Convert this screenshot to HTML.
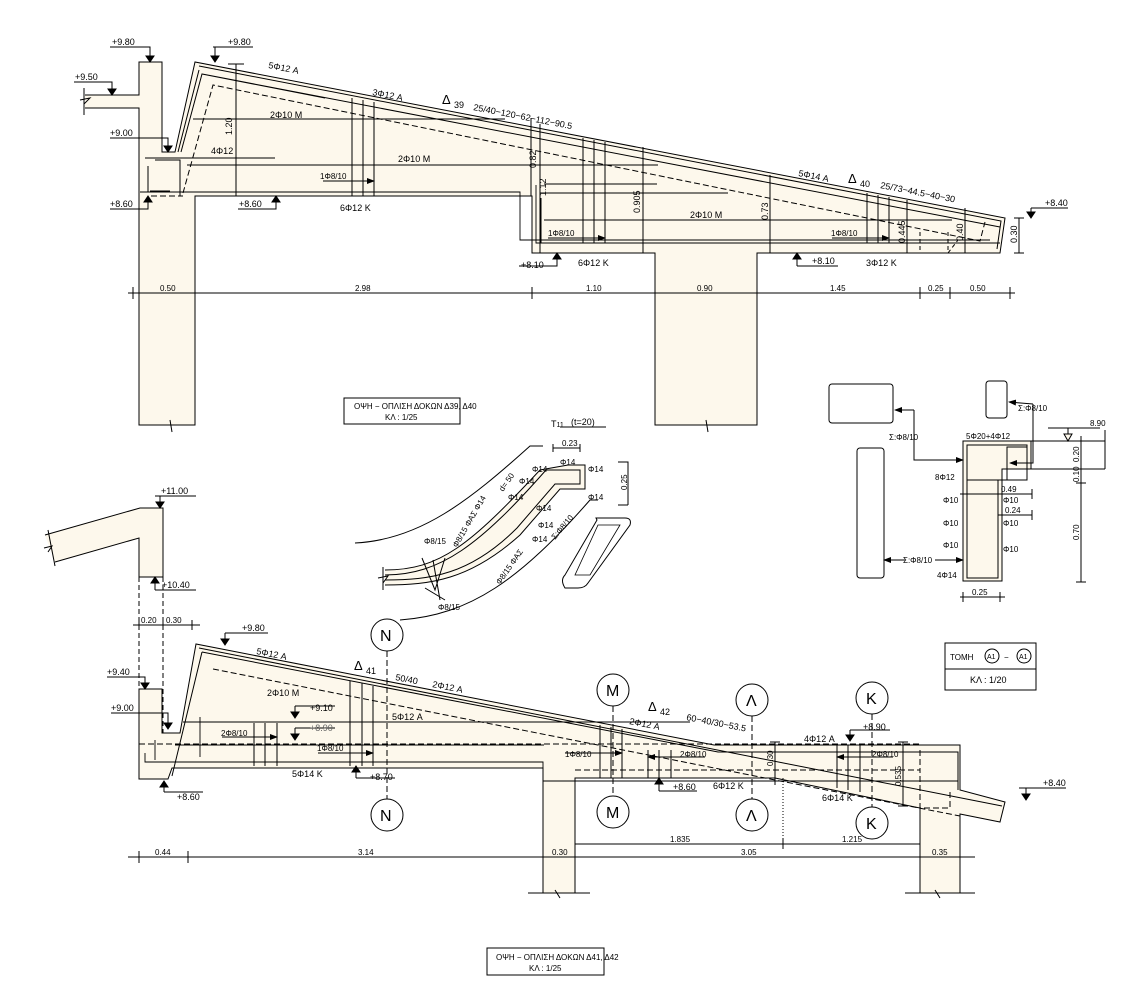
<!DOCTYPE html>
<html><head><meta charset="utf-8"><style>
html,body{margin:0;padding:0;background:#fff}
svg{display:block}
text{font-family:"Liberation Sans",sans-serif;font-size:9px;fill:#000}
.s{font-size:8px}
</style></head><body>
<svg width="1127" height="988" viewBox="0 0 1127 988" xmlns="http://www.w3.org/2000/svg">
<defs>
<marker id="ar" markerWidth="8" markerHeight="6" refX="7" refY="3" orient="auto"><path d="M0,0 L8,3 L0,6z" fill="#000"/></marker>
</defs>
<g stroke="#000" stroke-width="1" fill="none">
<!-- ===== TOP DRAWING ===== -->
<path d="M85,95 L139,95 L139,62 L162,62 L162,152 L175,152 L195,62 L1005,218 L1000,253 L757,253 L757,425 L655,425 L655,253 L532,253 L532,196 L195,196 L195,425 L139,425 L139,108 L85,108" fill="#fdf8ec"/>
<path d="M84,88 L84,115 M80,100 L90,98 L84,104"/>
<path d="M199,66 L1001,221 L997,249 M178,152 L199,70 M181,152 L202,74 L1000,227 M202,74 L325,98"/>
<path d="M155,160 L180,160 L180,196 M148,166 L148,192 M150,191 L170,191"/>
<path d="M145,158 L275,158 M187,165 L658,165"/>
<path d="M193,119 L505,119"/>
<path d="M140,192 L520,192 L520,240 L990,240" stroke-width="0.9"/>
<path d="M536,185 L536,243 L1000,243" stroke-width="0.9"/>
<path d="M541,198 L541,243"/>
<path d="M685,243 L728,243 M540,193 L728,193"/>
<path d="M544,220 L952,220"/>
<path d="M544,184 L657,184"/>
<!-- dashed -->
<path d="M183,193 L213,85 L980,241 L985,222" stroke-dasharray="6,3"/>
<path d="M151,196 L183,196" stroke-dasharray="6,3"/>
<path d="M920,232 L920,253 M948,232 L948,253 L958,240" stroke-dasharray="4,3"/>
<!-- stirrups top -->
<path d="M352,98 L352,196 M363,100 L363,196 M374,102 L374,196"/>
<path d="M583,138 L583,243 M594,140 L594,243 M605,142 L605,243"/>
<path d="M867,193 L867,243 M878,195 L878,243 M889,197 L889,243"/>
<path d="M323,181 L374,181" marker-end="url(#ar)"/>
<path d="M548,238 L605,238" marker-end="url(#ar)"/>
<path d="M832,238 L889,238" marker-end="url(#ar)"/>
<!-- dim verticals -->
<path d="M236,64 L236,196 M228,64 L244,64 M232,196 L240,196"/>
<path d="M531,118 L531,196 M540,124 L540,253 M643,147 L643,253 M770,175 L770,253 M907,200 L907,253 M965,208 L965,253"/>
<path d="M1019,218 L1019,253 M1014,218 L1024,218 M1014,253 L1024,253"/>
<!-- dim line -->
<path d="M128,293 L1015,293 M133,287 L133,299 M195,287 L195,299 M532,287 L532,299 M655,287 L655,299 M757,287 L757,299 M920,287 L920,299 M950,287 L950,299 M1010,287 L1010,299"/>
<!-- breaks -->
<path d="M162,425 L178,425 M170,420 L172,432"/>
<path d="M700,425 L712,425 M706,420 L708,432"/>
<!-- elevation markers top -->
<path d="M110,47 L150,47 L150,62"/><path d="M146,56 L154,56 L150,62z" fill="#000"/>
<path d="M213,47 L253,47 M215,47 L215,62"/><path d="M211,56 L219,56 L215,62z" fill="#000"/>
<path d="M74,82 L112,82 L112,95"/><path d="M108,89 L116,89 L112,95z" fill="#000"/>
<path d="M110,138 L168,138 L168,152"/><path d="M164,146 L172,146 L168,152z" fill="#000"/>
<path d="M110,209 L148,209 L148,196"/><path d="M144,202 L152,202 L148,196z" fill="#000"/>
<path d="M238,209 L276,209 L276,196"/><path d="M272,202 L280,202 L276,196z" fill="#000"/>
<path d="M519,266 L557,266 L557,253"/><path d="M553,259 L561,259 L557,253z" fill="#000"/>
<path d="M797,266 L838,266 M797,266 L797,253"/><path d="M793,259 L801,259 L797,253z" fill="#000"/>
<path d="M1031,208 L1068,208 M1031,208 L1031,218"/><path d="M1027,212 L1035,212 L1031,218z" fill="#000"/>
<rect x="344" y="398" width="116" height="26"/>
<!-- ===== T11 ===== -->
<path d="M355,543 C420,540 470,500 530,446 L543,446" />
<path d="M385,570 C440,570 470,545 540,470 L568,465 L585,465 L585,489 L560,489 L520,535 C470,580 430,585 385,585" fill="#fdf8ec"/>
<path d="M385,575 C440,575 480,545 546,470 L580,470 L580,484 L555,484 L517,528 C470,575 430,580 385,580"/>
<path d="M400,620 C470,615 520,580 590,500 L598,500"/>
<path d="M383,567 L383,590 M378,578 L388,576 L383,583"/>
<path d="M422,558 L435,590 L445,558 M433,560 L440,600 M425,588 L445,600"/>
<path d="M618,462 L628,462 L628,505 M618,505 L628,505" />
<path d="M553,448 L580,448 M553,444 L553,452 M580,444 L580,452"/>
<path d="M596,518 L625,518 Q632,518 630,525 L588,583 Q585,588 578,588 L565,588 Q560,580 565,575 L597,520z"/>
<path d="M598,525 L620,525 L590,575 L575,575z" stroke-width="0.8"/>
<path d="M560,427 L606,427"/>
<!-- ===== SECTION A1 ===== -->
<rect x="829" y="384" width="64" height="39" rx="3"/>
<rect x="857" y="448" width="27" height="130" rx="3"/>
<rect x="986" y="381" width="21" height="37" rx="3"/>
<path d="M963,441 L1031,441 L1031,469 L1002,469 L1002,581 L963,581z" fill="#fdf8ec"/>
<path d="M967,445 L1027,445 L1027,480 L967,480z M967,480 L967,578 L998,578 L998,480 M1007,447 L1027,447 L1027,480 L1007,480z"/>
<path d="M1031,441 L1105,441 M1031,469 L1105,469 M1081,436 L1081,582 M1076,441 L1086,441 M1076,469 L1086,469 M1076,483 L1086,483 M1076,582 L1086,582 M1105,430 L1105,469"/>
<path d="M960,494 L1032,494 M1032,489 L1032,499 M998,515 L1032,515 M1032,510 L1032,520"/>
<path d="M960,597 L1005,597 M963,592 L963,602 M1000,592 L1000,602"/>
<path d="M1048,428 L1100,428 M1068,428 L1068,441"/><path d="M1064,434 L1072,434 L1068,441z" fill="#fdf8ec"/>
<path d="M914,410 L914,460 L963,460" marker-end="url(#ar)"/>
<path d="M914,410 L895,410" marker-end="url(#ar)"/>
<path d="M1033,404 L1033,463 L1010,463" marker-end="url(#ar)"/>
<path d="M1033,404 L1009,402" marker-end="url(#ar)"/>
<path d="M935,560 L963,560" marker-end="url(#ar)"/>
<path d="M905,560 L884,560" marker-end="url(#ar)"/>
<rect x="945" y="643" width="91" height="47"/>
<path d="M945,669 L1036,669"/>
<circle cx="992" cy="656" r="7"/><circle cx="1024" cy="656" r="7"/>
<!-- ===== BOTTOM DRAWING ===== -->
<path d="M45,535 L140,508 L163,508 L163,577 L139,577 L139,538 L55,562" fill="#fdf8ec"/>
<path d="M48,530 L55,566 M44,548 L52,546 L48,552"/>
<path d="M139,577 L139,689 M163,577 L163,734" stroke-dasharray="5,3"/>
<path d="M139,689 L162,689 L162,733 L180,733 L196,644 L714,745 L960,745 L960,790 L1005,802 L1000,822 L960,814 L960,893 L920,893 L920,808 L775,778 L575,778 L575,893 L543,893 L543,768 L172,768 L168,779 L139,779z" fill="#fdf8ec"/>
<path d="M199,648 L1002,806 M202,652 L718,752 L958,752 L958,790 M202,652 L172,776"/>
<path d="M175,745 L544,745 M183,722 L690,722 M145,753 L145,762 L543,762 L543,781 L958,781 M155,740 L155,760" stroke-width="0.9"/>
<path d="M213,669 L770,779 L960,816" stroke-dasharray="6,3"/>
<path d="M139,744 L920,744 M575,770 L920,770 L920,808 L950,808 L950,790 M920,750 L920,770" stroke-dasharray="6,3"/>
<path d="M200,717 L200,757" stroke-width="0.9"/>
<!-- stirrups bottom -->
<path d="M254,723 L254,766 M265,723 L265,766 M277,723 L277,766"/>
<path d="M350,681 L350,766 M362,683 L362,766 M373,686 L373,766"/>
<path d="M600,725 L600,778 M611,727 L611,778 M622,729 L622,778"/>
<path d="M648,750 L648,778 M659,750 L659,778 M671,750 L671,778"/>
<path d="M837,745 L837,788 M848,745 L848,790 M860,745 L860,792"/>
<path d="M222,737 L277,737" marker-end="url(#ar)"/>
<path d="M318,753 L373,753" marker-end="url(#ar)"/>
<path d="M565,753 L622,753" marker-end="url(#ar)"/>
<path d="M705,757 L648,757" marker-end="url(#ar)"/>
<path d="M893,757 L837,757" marker-end="url(#ar)"/>
<path d="M775,742 L775,785 M770,742 L780,742 M903,742 L903,806 M898,742 L908,742 M898,806 L908,806"/>
<path d="M783,778 L783,850" stroke-dasharray="1,2"/>
<!-- section cut lines -->
<path d="M387,651 L387,799 M613,706 L613,796 M752,716 L752,799 M872,714 L872,807" stroke-dasharray="6,3"/>
<circle cx="387" cy="635" r="16"/><circle cx="387" cy="815" r="16"/>
<circle cx="613" cy="690" r="16"/><circle cx="613" cy="812" r="16"/>
<circle cx="752" cy="700" r="16"/><circle cx="752" cy="815" r="16"/>
<circle cx="872" cy="698" r="16"/><circle cx="872" cy="823" r="16"/>
<!-- dims bottom -->
<path d="M128,857 L975,857 M139,851 L139,863 M188,851 L188,863 M543,851 L543,863 M575,851 L575,863 M920,851 L920,863 M960,851 L960,863"/>
<path d="M575,844 L920,844 M575,839 L575,849 M783,839 L783,849 M920,839 L920,849"/>
<path d="M133,625 L200,625 M139,620 L139,630 M163,620 L163,630 M192,620 L192,630"/>
<path d="M528,893 L554,893 M564,893 L590,893 M905,893 L930,893 M940,893 L975,893 M555,890 L560,898 M935,890 L940,898"/>
<!-- elevations bottom -->
<path d="M155,496 L196,496 M160,496 L160,508"/><path d="M156,502 L164,502 L160,508z" fill="#000"/>
<path d="M155,590 L196,590 M155,577 L155,590"/><path d="M151,583 L159,583 L155,577z" fill="#000"/>
<path d="M225,633 L268,633 M225,633 L225,645"/><path d="M221,639 L229,639 L225,645z" fill="#000"/>
<path d="M107,677 L145,677 L145,689"/><path d="M141,683 L149,683 L145,689z" fill="#000"/>
<path d="M111,713 L168,713 L168,729"/><path d="M164,723 L172,723 L168,729z" fill="#000"/>
<path d="M295,706 L335,706 M295,706 L295,718"/><path d="M291,712 L299,712 L295,718z" fill="#000"/>
<path d="M295,728 L335,728 M295,728 L295,740"/><path d="M291,734 L299,734 L295,740z" fill="#000"/>
<path d="M164,792 L203,792 M164,792 L164,781"/><path d="M160,787 L168,787 L164,781z" fill="#000"/>
<path d="M356,778 L395,778 M356,778 L356,766"/><path d="M352,772 L360,772 L356,766z" fill="#000"/>
<path d="M659,791 L697,791 M659,791 L659,778"/><path d="M655,784 L663,784 L659,778z" fill="#000"/>
<path d="M850,730 L890,730 M850,730 L850,741"/><path d="M846,735 L854,735 L850,741z" fill="#000"/>
<path d="M1019,788 L1066,788 M1026,788 L1026,800"/><path d="M1022,794 L1030,794 L1026,800z" fill="#000"/>
<rect x="487" y="948" width="117" height="27"/>
</g>
<!-- ===== TEXT ===== -->
<g>
<text x="112" y="45">+9.80</text><text x="228" y="45">+9.80</text>
<text x="75" y="80">+9.50</text><text x="110" y="136">+9.00</text>
<text x="110" y="207">+8.60</text><text x="239" y="207">+8.60</text>
<text x="268" y="68" transform="rotate(11 268 68)">5Φ12 A</text>
<text x="372" y="95" transform="rotate(11 372 95)">3Φ12 A</text>
<text x="442" y="104" style="font-size:13px">Δ</text><text x="454" y="108">39</text>
<text x="473" y="110" transform="rotate(11 473 110)">25/40−120−62−112−90.5</text>
<text x="270" y="118">2Φ10 M</text><text x="211" y="154">4Φ12</text>
<text x="398" y="162">2Φ10 M</text><text x="320" y="179" class="s">1Φ8/10</text>
<text x="340" y="211">6Φ12 K</text>
<text x="690" y="218">2Φ10 M</text><text x="548" y="236" class="s">1Φ8/10</text>
<text x="831" y="236" class="s">1Φ8/10</text>
<text x="578" y="266">6Φ12 K</text><text x="866" y="266">3Φ12 K</text>
<text x="521" y="268">+8.10</text><text x="812" y="264">+8.10</text>
<text x="798" y="176" transform="rotate(11 798 176)">5Φ14 A</text>
<text x="848" y="183" style="font-size:13px">Δ</text><text x="860" y="187">40</text>
<text x="880" y="188" transform="rotate(11 880 188)">25/73−44.5−40−30</text>
<text x="1045" y="206">+8.40</text>
<g class="s">
<text x="232" y="135" transform="rotate(-90 232 135)">1.20</text>
<text x="536" y="168" transform="rotate(-90 536 168)">0.82</text>
<text x="546" y="196" transform="rotate(-90 546 196)">1.12</text>
<text x="640" y="213" transform="rotate(-90 640 213)">0.905</text>
<text x="768" y="220" transform="rotate(-90 768 220)">0.73</text>
<text x="905" y="243" transform="rotate(-90 905 243)">0.445</text>
<text x="963" y="241" transform="rotate(-90 963 241)">0.40</text>
<text x="1017" y="243" transform="rotate(-90 1017 243)">0.30</text>
</g>
<text x="160" y="291" class="s">0.50</text><text x="355" y="291" class="s">2.98</text>
<text x="586" y="291" class="s">1.10</text><text x="697" y="291" class="s">0.90</text>
<text x="830" y="291" class="s">1.45</text><text x="928" y="291" class="s">0.25</text>
<text x="970" y="291" class="s">0.50</text>
<text x="354" y="409" class="s">ΟΨΗ − ΟΠΛΙΣΗ ΔΟΚΩΝ Δ39, Δ40</text>
<text x="385" y="420" class="s">ΚΛ : 1/25</text>
<text x="551" y="427">T<tspan style="font-size:7px">11</tspan></text><text x="571" y="425">(t=20)</text>
<text x="562" y="446" class="s">0.23</text>
<text x="560" y="465" class="s">Φ14</text><text x="532" y="472" class="s">Φ14</text>
<text x="588" y="472" class="s">Φ14</text><text x="588" y="500" class="s">Φ14</text>
<text x="519" y="484" class="s">Φ14</text><text x="508" y="500" class="s">Φ14</text>
<text x="536" y="511" class="s">Φ14</text><text x="538" y="528" class="s">Φ14</text>
<text x="532" y="542" class="s">Φ14</text>
<text x="627" y="490" class="s" transform="rotate(-90 627 490)">0.25</text>
<text x="457" y="548" class="s" transform="rotate(-60 457 548)">Φ8/15 ΦΑΣ Φ14</text>
<text x="500" y="585" class="s" transform="rotate(-55 500 585)">Φ8/15 ΦΑΣ</text>
<text x="555" y="540" class="s" transform="rotate(-50 555 540)">Σ:Φ8/10</text>
<text x="503" y="492" class="s" transform="rotate(-55 503 492)">d= 50</text>
<text x="424" y="544" class="s">Φ8/15</text><text x="438" y="610" class="s">Φ8/15</text>
<text x="966" y="439" class="s">5Φ20+4Φ12</text><text x="1090" y="426" class="s">8.90</text>
<text x="889" y="440" class="s">Σ:Φ8/10</text><text x="1018" y="411" class="s">Σ:Φ8/10</text>
<text x="903" y="563" class="s">Σ:Φ8/10</text>
<text x="935" y="480" class="s">8Φ12</text><text x="943" y="503" class="s">Φ10</text>
<text x="943" y="526" class="s">Φ10</text><text x="943" y="548" class="s">Φ10</text>
<text x="1003" y="503" class="s">Φ10</text><text x="1003" y="526" class="s">Φ10</text>
<text x="1003" y="552" class="s">Φ10</text><text x="937" y="578" class="s">4Φ14</text>
<text x="1001" y="492" class="s">0.49</text><text x="1005" y="513" class="s">0.24</text>
<text x="972" y="595" class="s">0.25</text>
<text x="1079" y="462" class="s" transform="rotate(-90 1079 462)">0.20</text>
<text x="1079" y="482" class="s" transform="rotate(-90 1079 482)">0.10</text>
<text x="1079" y="540" class="s" transform="rotate(-90 1079 540)">0.70</text>
<text x="950" y="660" class="s">TOMH</text>
<text x="987" y="659" style="font-size:7px">A1</text><text x="1004" y="660" class="s">−</text>
<text x="1019" y="659" style="font-size:7px">A1</text>
<text x="970" y="683">ΚΛ : 1/20</text>
<text x="161" y="494">+11.00</text><text x="162" y="588">+10.40</text>
<text x="141" y="623" class="s">0.20</text><text x="166" y="623" class="s">0.30</text>
<text x="242" y="631">+9.80</text><text x="107" y="675">+9.40</text>
<text x="111" y="711">+9.00</text><text x="310" y="711">+9.10</text>
<text x="310" y="731" style="fill:#666">+8.90</text>
<text x="177" y="800">+8.60</text><text x="370" y="780">+8.70</text>
<text x="256" y="654" transform="rotate(11 256 654)">5Φ12 A</text>
<text x="354" y="670" style="font-size:13px">Δ</text><text x="366" y="674">41</text>
<text x="395" y="680" transform="rotate(11 395 680)">50/40</text>
<text x="432" y="687" transform="rotate(11 432 687)">2Φ12 A</text>
<text x="267" y="696">2Φ10 M</text><text x="392" y="720">5Φ12 A</text>
<text x="221" y="736" class="s">2Φ8/10</text><text x="317" y="751" class="s">1Φ8/10</text>
<text x="292" y="777">5Φ14 K</text>
<text x="380" y="641" style="font-size:16px">N</text><text x="380" y="821" style="font-size:16px">N</text>
<text x="606" y="696" style="font-size:16px">M</text><text x="606" y="818" style="font-size:16px">M</text>
<text x="746" y="706" style="font-size:16px">Λ</text><text x="746" y="821" style="font-size:16px">Λ</text>
<text x="866" y="704" style="font-size:16px">K</text><text x="866" y="829" style="font-size:16px">K</text>
<text x="648" y="711" style="font-size:13px">Δ</text><text x="660" y="715">42</text>
<text x="629" y="724" transform="rotate(11 629 724)">2Φ12 A</text>
<text x="686" y="720" transform="rotate(11 686 720)">60−40/30−53.5</text>
<text x="565" y="757" class="s">1Φ8/10</text><text x="680" y="757" class="s">2Φ8/10</text>
<text x="872" y="757" class="s">2Φ8/10</text>
<text x="804" y="742">4Φ12 A</text><text x="863" y="730">+8.90</text>
<text x="673" y="790">+8.60</text><text x="713" y="789">6Φ12 K</text>
<text x="822" y="801">6Φ14 K</text><text x="1043" y="786">+8.40</text>
<text x="773" y="766" class="s" transform="rotate(-90 773 766)">0.30</text>
<text x="901" y="786" class="s" transform="rotate(-90 901 786)">0.535</text>
<text x="155" y="855" class="s">0.44</text><text x="358" y="855" class="s">3.14</text>
<text x="552" y="855" class="s">0.30</text><text x="741" y="855" class="s">3.05</text>
<text x="932" y="855" class="s">0.35</text>
<text x="670" y="842" class="s">1.835</text><text x="842" y="842" class="s">1.215</text>
<text x="496" y="960" class="s">ΟΨΗ − ΟΠΛΙΣΗ ΔΟΚΩΝ Δ41, Δ42</text>
<text x="529" y="971" class="s">ΚΛ : 1/25</text>
</g>
</svg>
</body></html>
